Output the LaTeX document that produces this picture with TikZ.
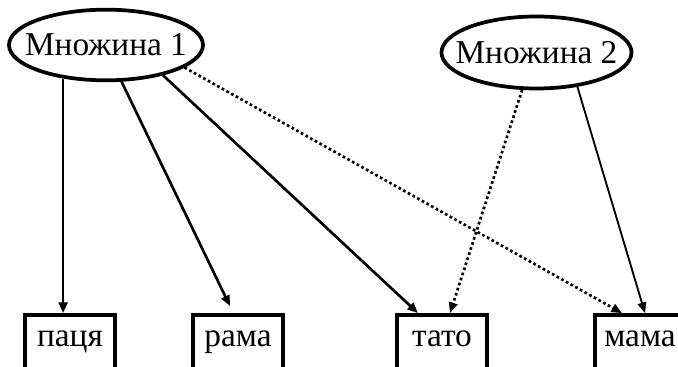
\documentclass[tikz,border=0pt]{standalone}
\usepackage{fontspec}
\setmainfont{Liberation Serif}
\usetikzlibrary{shapes.geometric, arrows.meta}

\begin{document}
\begin{tikzpicture}[x=0.75pt, y=-0.75pt, >={Triangle[length=8pt, width=6.5pt]},
    setnode/.style={draw, ellipse, inner xsep=-12pt, inner ysep=0pt, line width=2.8pt, font=\fontsize{25}{27}\selectfont},
    itemnode/.style={draw, rectangle, line width=2.8pt, minimum width=67.5pt, minimum height=42pt,
        text height=1.5ex, text depth=0.5ex, font=\fontsize{25}{27}\selectfont},
    link/.style={->, line width=2pt},
    weaklink/.style={->, line width=2pt, dotted}]

    % the page is cut at the bottom of the boxes
    \clip (0,0) rectangle (678,367);

    % Draw the two sets
    \node[setnode, minimum width=145.5pt, minimum height=53pt] (set1) at (106,45) {Множина 1};
    \node[setnode, minimum width=142.5pt, minimum height=54pt] (set2) at (536.5,52.5) {Множина 2};

    % Draw the elements
    \node[itemnode] (paca) at (70,343) {паця};
    \node[itemnode] (rama) at (238,343) {рама};
    \node[itemnode] (tato) at (442,343) {тато};
    \node[itemnode] (mama) at (640,343) {мама};

    % links of the first set
    \draw[link] (set1.218) -- (set1.218 |- paca.north);
    \draw[link] (set1.293) -- ([shift={(-8,-7)}]rama.north);
    \draw[link] (set1.332) -- ([shift={(-24,0)}]tato.north);
    \draw[weaklink] (set1.344) -- ([shift={(-18,0)}]mama.north);

    % links of the second set
    \draw[weaklink] (set2.249) -- ([shift={(8,0)}]tato.north);
    \draw[link, line width=1.4pt] (set2.320) -- ([shift={(5,0)}]mama.north);

\end{tikzpicture}
\end{document}
